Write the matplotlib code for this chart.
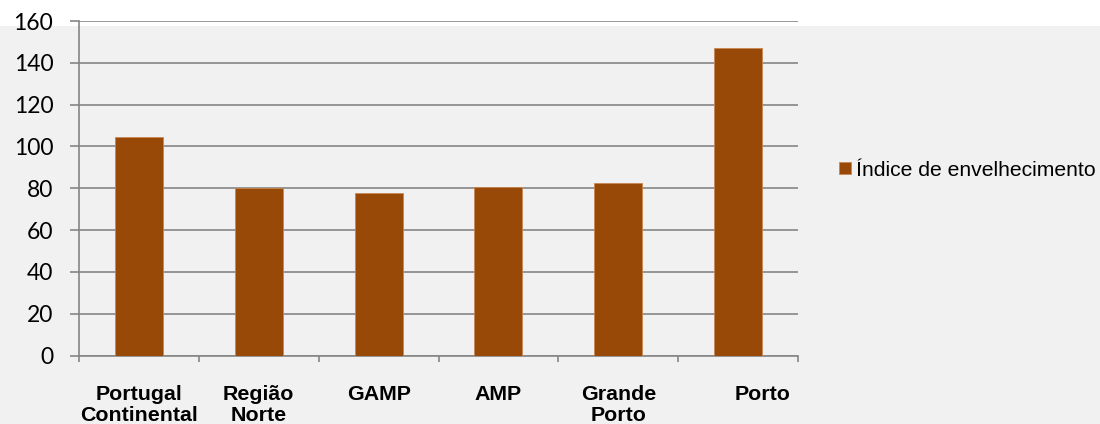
import matplotlib
matplotlib.use("Agg")
import matplotlib.pyplot as plt
import matplotlib.transforms as mtransforms
from matplotlib.patches import Rectangle

categories = ["Portugal\nContinental", "Região\nNorte", "GAMP", "AMP", "Grande\nPorto", "Porto"]
values = [104.5, 79.9, 77.5, 80.5, 82.7, 147.1]
series_name = "Índice de envelhecimento"
yticks = [0, 20, 40, 60, 80, 100, 120, 140, 160]

bar_color = "#984807"
grid_color = "#868686"
bg = "#f1f1f1"

W, H = 1100, 424
fig = plt.figure(figsize=(W / 100, H / 100), dpi=100, facecolor=bg)
# white strip at top
fig.patches.append(Rectangle((0, (H - 26) / H), 1, 26 / H, transform=fig.transFigure,
                             facecolor="white", edgecolor="none", zorder=-10))

left, right, top, bottom = 79, 798, 21, 355.5
ax = fig.add_axes([left / W, (H - bottom) / H, (right - left) / W, (bottom - top) / H])
ax.set_facecolor("none")

x = list(range(len(categories)))
bars = ax.bar(x, values, width=0.4, color=bar_color, edgecolor="#c8864f", linewidth=0.6,
              label=series_name, zorder=3)

ax.set_xlim(-0.5, len(categories) - 0.5)
ax.set_ylim(0, 160)
ax.set_yticks(yticks)
ax.set_yticklabels([str(v) for v in yticks], fontfamily="Lato", fontsize=16.5)
ax.yaxis.grid(True, color=grid_color, linewidth=1.2, zorder=0)
ax.tick_params(axis="y", length=6.5, width=1.2, color=grid_color, pad=12)

# x ticks at category boundaries, labels at centers
ax.set_xticks([i - 0.5 for i in range(len(categories) + 1)])
ax.set_xticklabels([])
ax.tick_params(axis="x", which="major", length=4.5, width=1.2, color=grid_color)
ax.set_xticks(x, minor=True)
ax.set_xticklabels(categories, minor=True, fontfamily="Liberation Sans", fontweight="bold",
                   fontsize=15.4, va="top", linespacing=1.15)
ax.tick_params(axis="x", which="minor", length=0, pad=21)

# Porto label sits a bit right of its bar in the reference
lbl = ax.xaxis.get_minorticklabels()[-1]
lbl.set_transform(lbl.get_transform() + mtransforms.ScaledTranslation(24 / 100, 0, fig.dpi_scale_trans))

for s in ["top", "right"]:
    ax.spines[s].set_visible(False)
for s in ["left", "bottom"]:
    ax.spines[s].set_color(grid_color)
    ax.spines[s].set_linewidth(1.2)

fig.legend(handles=[bars], labels=[series_name], loc="center left",
           bbox_to_anchor=(831 / W, (H - 170) / H), frameon=False,
           prop={"family": "Liberation Sans", "size": 15.2},
           handlelength=0.55, handleheight=0.55, handletextpad=0.25, borderaxespad=0)

fig.savefig("out.png", dpi=100, facecolor=fig.get_facecolor())
